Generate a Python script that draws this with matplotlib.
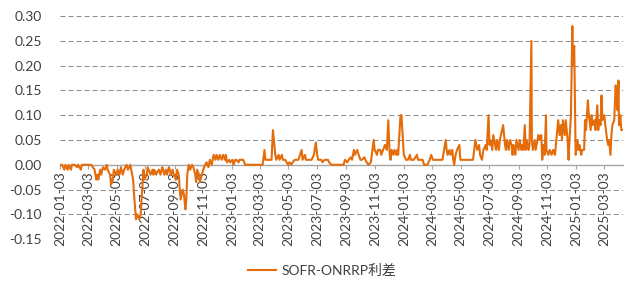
import matplotlib.pyplot as plt
import matplotlib.dates as mdates
from matplotlib.ticker import FormatStrFormatter
import pandas as pd

plt.rcParams['font.family'] = ['Lato', 'Noto Sans CJK SC', 'DejaVu Sans']

series_name = "SOFR-ONRRP利差"
line_colour = '#E46C0A'

# (date, spread in %)
spread_2022 = [
    ("2022-01-03", 0.00), ("2022-01-07", 0.00), ("2022-01-12", -0.01), ("2022-01-14", 0.00),
    ("2022-01-19", -0.01), ("2022-01-21", 0.00), ("2022-01-26", -0.01), ("2022-01-28", 0.00),
    ("2022-02-03", 0.00), ("2022-02-08", -0.005), ("2022-02-10", 0.00), ("2022-02-16", -0.01),
    ("2022-02-18", 0.00), ("2022-03-10", 0.00), ("2022-03-17", -0.01), ("2022-03-21", -0.03),
    ("2022-03-23", -0.02), ("2022-03-25", -0.03), ("2022-03-29", -0.01), ("2022-03-31", -0.02),
    ("2022-04-04", -0.005), ("2022-04-08", -0.01), ("2022-04-12", 0.00), ("2022-04-14", -0.01),
    ("2022-04-19", -0.02), ("2022-04-21", -0.04), ("2022-04-25", -0.03), ("2022-04-27", -0.01),
    ("2022-05-02", -0.02), ("2022-05-05", -0.01), ("2022-05-09", -0.02), ("2022-05-12", -0.005),
    ("2022-05-16", -0.02), ("2022-05-19", -0.01), ("2022-05-24", 0.00), ("2022-05-27", -0.01),
    ("2022-06-01", 0.00), ("2022-06-03", -0.01), ("2022-06-07", -0.03), ("2022-06-09", -0.06),
    ("2022-06-13", -0.11), ("2022-06-16", -0.10), ("2022-06-20", -0.11), ("2022-06-23", -0.10),
    ("2022-06-27", -0.04), ("2022-06-29", -0.01), ("2022-07-01", -0.03), ("2022-07-06", -0.02),
    ("2022-07-08", -0.005), ("2022-07-12", -0.015), ("2022-07-14", -0.02), ("2022-07-18", -0.01),
    ("2022-07-20", -0.02), ("2022-07-22", -0.01), ("2022-07-26", -0.02), ("2022-07-28", -0.015),
    ("2022-08-01", -0.01), ("2022-08-04", -0.02), ("2022-08-08", -0.005), ("2022-08-10", -0.01),
    ("2022-08-12", -0.02), ("2022-08-16", -0.01), ("2022-08-18", -0.02), ("2022-08-22", -0.005),
    ("2022-08-24", -0.01), ("2022-08-26", -0.02), ("2022-08-30", -0.01), ("2022-09-01", -0.02),
    ("2022-09-06", -0.03), ("2022-09-08", -0.01), ("2022-09-12", -0.02), ("2022-09-14", -0.05),
    ("2022-09-16", -0.07), ("2022-09-20", -0.05), ("2022-09-23", -0.06), ("2022-09-26", -0.09),
    ("2022-09-28", -0.07), ("2022-09-30", -0.02), ("2022-10-03", 0.00), ("2022-10-06", -0.01),
    ("2022-10-10", 0.00), ("2022-10-13", -0.005), ("2022-10-17", -0.02), ("2022-10-19", -0.035),
    ("2022-10-21", -0.01), ("2022-10-25", -0.02), ("2022-10-27", -0.035), ("2022-10-31", -0.02),
    ("2022-11-03", -0.01), ("2022-11-07", 0.00), ("2022-11-10", 0.005), ("2022-11-14", -0.005),
    ("2022-11-17", 0.01), ("2022-11-21", 0.00), ("2022-11-25", 0.02), ("2022-11-29", 0.01),
    ("2022-12-01", 0.02), ("2022-12-05", 0.01), ("2022-12-08", 0.02), ("2022-12-12", 0.01),
    ("2022-12-15", 0.02), ("2022-12-19", 0.01), ("2022-12-21", 0.02), ("2022-12-23", 0.005),
    ("2022-12-28", 0.01), ("2022-12-30", 0.005),
]

spread_2023 = [
    ("2023-01-04", 0.01), ("2023-01-06", 0.00), ("2023-01-10", 0.01), ("2023-01-12", 0.01),
    ("2023-01-17", 0.005), ("2023-01-19", 0.01), ("2023-01-24", 0.01), ("2023-01-27", 0.01),
    ("2023-01-31", 0.00), ("2023-02-03", 0.00), ("2023-02-15", 0.00), ("2023-03-01", 0.00),
    ("2023-03-09", 0.00), ("2023-03-13", 0.03), ("2023-03-15", 0.01), ("2023-03-20", 0.01),
    ("2023-03-24", 0.01), ("2023-03-28", 0.01), ("2023-03-31", 0.07), ("2023-04-03", 0.04),
    ("2023-04-05", 0.02), ("2023-04-07", 0.01), ("2023-04-12", 0.02), ("2023-04-14", 0.01),
    ("2023-04-19", 0.02), ("2023-04-21", 0.01), ("2023-04-26", 0.01), ("2023-05-02", 0.00),
    ("2023-05-05", 0.005), ("2023-05-09", 0.00), ("2023-05-12", 0.005), ("2023-05-16", 0.01),
    ("2023-05-19", 0.01), ("2023-05-24", 0.01), ("2023-05-31", 0.03), ("2023-06-02", 0.01),
    ("2023-06-07", 0.02), ("2023-06-09", 0.01), ("2023-06-14", 0.01), ("2023-06-16", 0.01),
    ("2023-06-21", 0.01), ("2023-06-26", 0.02), ("2023-06-30", 0.045), ("2023-07-03", 0.02),
    ("2023-07-05", 0.01), ("2023-07-12", 0.01), ("2023-07-14", 0.005), ("2023-07-19", 0.01),
    ("2023-07-26", 0.01), ("2023-07-28", 0.005), ("2023-08-02", 0.00), ("2023-08-15", 0.00),
    ("2023-08-28", 0.00), ("2023-08-31", 0.01), ("2023-09-05", 0.005), ("2023-09-08", 0.01),
    ("2023-09-12", 0.015), ("2023-09-15", 0.01), ("2023-09-19", 0.03), ("2023-09-21", 0.02),
    ("2023-09-26", 0.03), ("2023-09-29", 0.02), ("2023-10-03", 0.01), ("2023-10-06", 0.01),
    ("2023-10-11", 0.015), ("2023-10-16", 0.005), ("2023-10-20", 0.00), ("2023-10-25", 0.005),
    ("2023-10-31", 0.05), ("2023-11-02", 0.03), ("2023-11-07", 0.02), ("2023-11-09", 0.03),
    ("2023-11-14", 0.03), ("2023-11-16", 0.02), ("2023-11-20", 0.03), ("2023-11-24", 0.04),
    ("2023-11-28", 0.03), ("2023-12-01", 0.09), ("2023-12-04", 0.02), ("2023-12-06", 0.01),
    ("2023-12-08", 0.03), ("2023-12-12", 0.02), ("2023-12-14", 0.03), ("2023-12-18", 0.02),
    ("2023-12-20", 0.03), ("2023-12-22", 0.02), ("2023-12-27", 0.10), ("2023-12-29", 0.10),
]

spread_2024 = [
    ("2024-01-03", 0.02), ("2024-01-08", 0.01), ("2024-01-12", 0.01), ("2024-01-16", 0.02),
    ("2024-01-18", 0.01), ("2024-01-24", 0.01), ("2024-01-31", 0.02), ("2024-02-02", 0.01),
    ("2024-02-08", 0.01), ("2024-02-12", 0.01), ("2024-02-15", 0.00), ("2024-02-22", 0.00),
    ("2024-02-27", 0.01), ("2024-03-01", 0.02), ("2024-03-05", 0.01), ("2024-03-12", 0.01),
    ("2024-03-19", 0.01), ("2024-03-25", 0.01), ("2024-04-01", 0.05), ("2024-04-03", 0.03),
    ("2024-04-05", 0.02), ("2024-04-09", 0.03), ("2024-04-11", 0.02), ("2024-04-15", 0.03),
    ("2024-04-17", 0.01), ("2024-04-19", 0.00), ("2024-04-22", 0.02), ("2024-04-25", 0.03),
    ("2024-04-30", 0.04), ("2024-05-02", 0.01), ("2024-05-15", 0.01), ("2024-05-29", 0.01),
    ("2024-06-03", 0.05), ("2024-06-05", 0.04), ("2024-06-07", 0.03), ("2024-06-11", 0.04),
    ("2024-06-13", 0.02), ("2024-06-17", 0.01), ("2024-06-20", 0.03), ("2024-06-25", 0.04),
    ("2024-06-27", 0.03), ("2024-07-01", 0.10), ("2024-07-03", 0.04), ("2024-07-05", 0.05),
    ("2024-07-09", 0.03), ("2024-07-11", 0.06), ("2024-07-15", 0.04), ("2024-07-17", 0.03),
    ("2024-07-19", 0.05), ("2024-07-23", 0.03), ("2024-07-25", 0.05), ("2024-08-01", 0.08),
    ("2024-08-05", 0.04), ("2024-08-07", 0.03), ("2024-08-09", 0.05), ("2024-08-13", 0.03),
    ("2024-08-15", 0.05), ("2024-08-19", 0.04), ("2024-08-21", 0.02), ("2024-08-23", 0.04),
    ("2024-08-27", 0.02), ("2024-08-29", 0.05), ("2024-09-03", 0.03), ("2024-09-05", 0.05),
    ("2024-09-09", 0.03), ("2024-09-11", 0.04), ("2024-09-13", 0.03), ("2024-09-16", 0.08),
    ("2024-09-18", 0.03), ("2024-09-20", 0.05), ("2024-09-24", 0.03), ("2024-09-26", 0.04),
    ("2024-09-30", 0.25), ("2024-10-01", 0.05), ("2024-10-03", 0.03), ("2024-10-07", 0.05),
    ("2024-10-09", 0.03), ("2024-10-11", 0.04), ("2024-10-15", 0.06), ("2024-10-17", 0.05),
    ("2024-10-21", 0.06), ("2024-10-23", 0.01), ("2024-10-25", 0.04), ("2024-10-28", 0.02),
    ("2024-10-31", 0.10), ("2024-11-01", 0.03), ("2024-11-05", 0.02), ("2024-11-08", 0.03),
    ("2024-11-12", 0.02), ("2024-11-15", 0.03), ("2024-11-19", 0.02), ("2024-11-22", 0.05),
    ("2024-11-26", 0.09), ("2024-11-29", 0.06), ("2024-12-02", 0.08), ("2024-12-04", 0.05),
    ("2024-12-06", 0.09), ("2024-12-10", 0.06), ("2024-12-12", 0.09), ("2024-12-16", 0.05),
    ("2024-12-18", 0.01), ("2024-12-20", 0.05), ("2024-12-23", 0.10), ("2024-12-26", 0.28),
    ("2024-12-27", 0.20), ("2024-12-30", 0.24), ("2024-12-31", 0.17),
]

spread_2025 = [
    ("2025-01-02", 0.02), ("2025-01-06", 0.05), ("2025-01-08", 0.03), ("2025-01-10", 0.04),
    ("2025-01-14", 0.02), ("2025-01-16", 0.03), ("2025-01-20", 0.03), ("2025-01-22", 0.09),
    ("2025-01-24", 0.07), ("2025-01-28", 0.13), ("2025-01-30", 0.10), ("2025-02-03", 0.07),
    ("2025-02-05", 0.10), ("2025-02-07", 0.08), ("2025-02-11", 0.09), ("2025-02-13", 0.07),
    ("2025-02-17", 0.12), ("2025-02-19", 0.07), ("2025-02-21", 0.09), ("2025-02-24", 0.08),
    ("2025-02-26", 0.14), ("2025-02-28", 0.09), ("2025-03-04", 0.10), ("2025-03-06", 0.08),
    ("2025-03-10", 0.05), ("2025-03-12", 0.04), ("2025-03-14", 0.05), ("2025-03-17", 0.02),
    ("2025-03-19", 0.06), ("2025-03-21", 0.08), ("2025-03-25", 0.09), ("2025-03-28", 0.16),
    ("2025-03-31", 0.13), ("2025-04-01", 0.11), ("2025-04-03", 0.17), ("2025-04-04", 0.08),
    ("2025-04-07", 0.10), ("2025-04-09", 0.07), ("2025-04-11", 0.07),
]

y_ticks = [-0.15, -0.10, -0.05, 0.00, 0.05, 0.10, 0.15, 0.20, 0.25, 0.30]
tick_dates = pd.date_range("2022-01-03", "2025-03-03", freq=pd.DateOffset(months=2))

points = spread_2022 + spread_2023 + spread_2024 + spread_2025
dates = pd.to_datetime([d for d, v in points])
values = [v for d, v in points]

fig = plt.figure(figsize=(6.4, 2.93), dpi=100)
ax = fig.add_axes([0.094, 0.184, 0.879, 0.761])

for y in y_ticks:
    if y != 0:
        ax.axhline(y, color='#8c8c8c', lw=0.75, dashes=(4.8, 2.9), zorder=0)

ax.plot(dates, values, color=line_colour, lw=1.5, label=series_name, zorder=3)

ax.set_ylim(-0.15, 0.30)
ax.set_xlim(pd.Timestamp("2022-01-03"), pd.Timestamp("2025-04-12"))
ax.set_yticks(y_ticks)
ax.yaxis.set_major_formatter(FormatStrFormatter('%.2f'))
ax.set_xticks(tick_dates)
ax.xaxis.set_major_formatter(mdates.DateFormatter('%Y-%m-%d'))

for s in ['top', 'right', 'left']:
    ax.spines[s].set_visible(False)
ax.spines['bottom'].set_position(('data', 0))
ax.spines['bottom'].set_color('#a6a6a6')
ax.spines['bottom'].set_linewidth(1.0)
ax.spines['bottom'].set_zorder(2)

ax.tick_params(axis='y', length=0, labelsize=10, labelcolor='#404040', pad=13)
ax.tick_params(axis='x', length=3, width=0.8, color='#a6a6a6', direction='out',
               labelsize=10, labelcolor='#404040', pad=1.5, labelrotation=90)

fig.legend(loc='center', bbox_to_anchor=(322 / 640, 1 - 270 / 293), frameon=False,
           fontsize=10, handlelength=2.0, handletextpad=0.4, labelcolor='#404040')

fig.savefig("out.png", dpi=100)
